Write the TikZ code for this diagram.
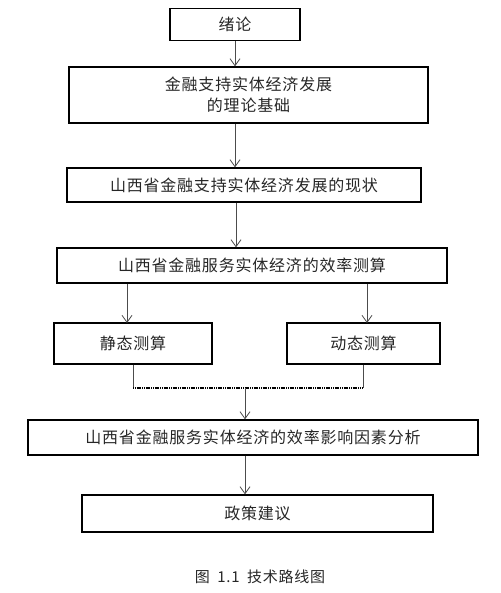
\documentclass[tikz,border=0pt]{standalone}
\usepackage{fontspec}
\newfontfamily\cjk[LetterSpace=5]{Noto Sans CJK SC}
\usetikzlibrary{arrows.meta,calc}
\begin{document}
\begin{tikzpicture}[x=1pt,y=-1pt,
  box/.style={draw=black, line width=1.3pt, rectangle, inner sep=0pt, text=black!85,
    font=\cjk\fontsize{16}{21}\selectfont, align=center},
  arr/.style={draw=black!70, line width=0.8pt, -{Straight Barb[length=7pt,width=10pt,line width=0.8pt]}},
  ln/.style={draw=black!70, line width=1pt}
]
\useasboundingbox (0,0) rectangle (500,593);
\node[box, minimum width=130pt, minimum height=32pt] (b1) at (235,24.5) {绪论};
\node[box, minimum width=359pt, minimum height=56pt] (b2) at (248.5,95) {金融支持实体经济发展\\的理论基础};
\node[box, minimum width=354pt, minimum height=34pt] (b3) at (244,185) {山西省金融支持实体经济发展的现状};
\node[box, minimum width=390pt, minimum height=35pt] (b4) at (252,265.5) {山西省金融服务实体经济的效率测算};
\node[box, minimum width=158pt, minimum height=41pt] (b5) at (133,343.5) {静态测算};
\node[box, minimum width=153pt, minimum height=41pt] (b6) at (363.5,343.5) {动态测算};
\node[box, minimum width=450pt, minimum height=35pt] (b7) at (253,437.5) {山西省金融服务实体经济的效率影响因素分析};
\node[box, minimum width=351pt, minimum height=37pt] (b8) at (257.5,513.5) {政策建议};
\node[text=black!85, font=\cjk\fontsize{15}{16}\selectfont] (cap) at (260,577) {图\hspace{0.5em}1.1\hspace{0.5em}技术路线图};

\coordinate (a5) at (127,323);
\coordinate (a6) at (367,323);
\coordinate (jl) at (133,388);
\coordinate (jr) at (363,388);
\coordinate (jm) at (245,388);

\draw[arr] (b1.south) -- (b1.south |- b2.north);
\draw[arr] (b2.south -| b1.south) -- (b1.south |- b3.north);
\draw[arr] ([xshift=1pt]b2.south -| b1.south) ++(0,79) coordinate (t) (b3.south -| t) -- (t |- b4.north);
\draw[arr] (b4.south -| a5) -- (a5);
\draw[arr] (b4.south -| a6) -- (a6);
\draw[ln] (b5.south -| jl) -- (jl);
\draw[ln] (b6.south -| jr) -- (jr);
\draw[line width=2.2pt, black, dash pattern=on 1.2pt off 0.6pt] (jl) -- (jr);
\draw[arr] (jm) -- (jm |- b7.north);
\draw[arr] (b7.south -| jm) -- (jm |- b8.north);
\end{tikzpicture}
\end{document}
